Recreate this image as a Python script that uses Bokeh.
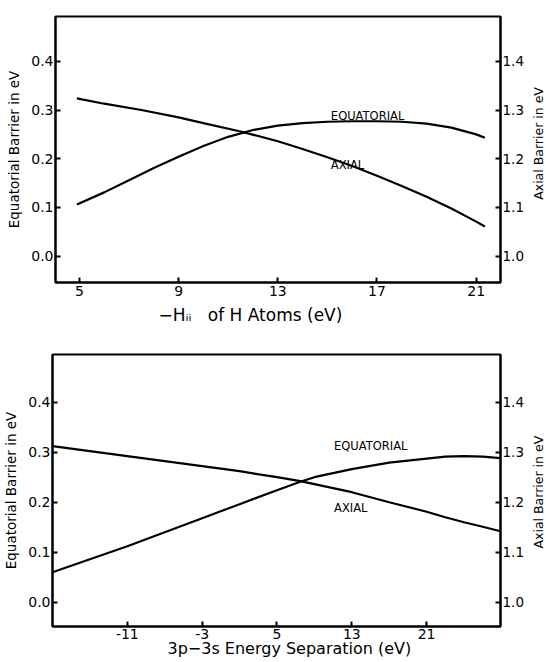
import math
from bokeh.plotting import figure
from bokeh.models import Range1d, LinearAxis, FixedTicker, Label, NumeralTickFormatter, Title
from bokeh.layouts import column, row
from bokeh.embed import file_html
from bokeh.resources import INLINE

# ---------------- data ----------------
# Top panel: -H_ii of H atoms (eV)
top_x_ticks = [5, 9, 13, 17, 21]
top_eq_x = [4.9, 6, 7, 8, 9, 10, 11, 12, 13, 14, 15, 16, 17, 18, 19, 20, 21, 21.35]
top_eq_y = [0.106, 0.131, 0.156, 0.181, 0.204, 0.226, 0.245, 0.259, 0.268, 0.273,
            0.276, 0.277, 0.277, 0.276, 0.272, 0.264, 0.250, 0.243]
top_ax_x = [4.9, 6, 7.5, 9, 10, 11.5, 13, 14, 15, 16, 17, 18, 19, 20, 21, 21.35]
top_ax_y = [1.324, 1.313, 1.300, 1.285, 1.273, 1.256, 1.236, 1.220, 1.203, 1.185,
            1.165, 1.144, 1.122, 1.098, 1.071, 1.061]

# Bottom panel: 3p-3s energy separation (eV)
bot_x_ticks = [-11, -3, 5, 13, 21]
bot_x = [-19, -15, -11, -7, -3, 1, 5, 7.5, 9, 13, 17, 21, 23, 25, 27, 28.9]
bot_eq_y = [0.060, 0.086, 0.112, 0.140, 0.168, 0.196, 0.224, 0.241, 0.250, 0.266,
            0.279, 0.287, 0.291, 0.292, 0.291, 0.288]
bot_ax_y = [1.312, 1.302, 1.292, 1.282, 1.272, 1.262, 1.250, 1.242, 1.236, 1.220,
            1.200, 1.181, 1.170, 1.160, 1.151, 1.142]

left_ticks = [0.0, 0.1, 0.2, 0.3, 0.4]
right_ticks = [1.0, 1.1, 1.2, 1.3, 1.4]

FONT = "DejaVu Sans"
LABEL_W = 20  # width of the strip that holds the right-hand axis title


def style_axis(ax, ticks, fmt=None, overrides=None, label_size="14px", tick_size="14px"):
    ax.ticker = FixedTicker(ticks=ticks)
    ax.axis_line_color = "black"
    ax.axis_line_width = 2
    ax.major_tick_line_color = "black"
    ax.major_tick_line_width = 2
    ax.major_tick_in = 5
    ax.major_tick_out = 0
    ax.minor_tick_line_color = None
    ax.major_label_text_font = FONT
    ax.major_label_text_font_size = tick_size
    ax.major_label_text_color = "black"
    ax.major_label_standoff = 3
    ax.axis_label_text_font = FONT
    ax.axis_label_text_font_size = label_size
    ax.axis_label_text_font_style = "normal"
    ax.axis_label_text_color = "black"
    ax.axis_label_standoff = 6
    if fmt is not None:
        ax.formatter = fmt
    if overrides:
        ax.major_label_overrides = overrides


def make_panel(height, xr, yr, yr2, xticks, xoverrides, border, eq_x, eq_y, ax_x, ax_y,
               eq_lab, ax_lab, title, title_size, title_offset, title_standoff, xlab_standoff,
               rlab_y):
    p = figure(width=546 - LABEL_W, height=height, x_range=Range1d(*xr), y_range=Range1d(*yr),
               output_backend="svg", toolbar_location=None,
               min_border_left=border[0], min_border_right=border[1],
               min_border_top=border[2], min_border_bottom=border[3])
    p.extra_y_ranges = {"ax": Range1d(*yr2)}
    p.xgrid.visible = False
    p.ygrid.visible = False
    p.outline_line_color = "black"
    p.outline_line_width = 2
    p.outline_line_alpha = 1
    p.background_fill_color = "white"
    p.border_fill_color = "white"

    style_axis(p.xaxis[0], xticks, overrides=xoverrides)
    p.xaxis[0].major_label_standoff = xlab_standoff
    style_axis(p.yaxis[0], left_ticks, fmt=NumeralTickFormatter(format="0.0"),
               label_size="13.5px")
    p.yaxis[0].axis_label = "Equatorial Barrier in eV"
    p.yaxis[0].major_label_standoff = 2

    rax = LinearAxis(y_range_name="ax")
    style_axis(rax, right_ticks, fmt=NumeralTickFormatter(format="0.0"),
               tick_size="13.5px")
    rax.major_label_standoff = 2
    p.add_layout(rax, "right")

    p.line(eq_x, eq_y, line_color="black", line_width=2.2)
    p.line(ax_x, ax_y, line_color="black", line_width=2.2, y_range_name="ax")

    for (tx, ty, t) in [(eq_lab[0], eq_lab[1], "EQUATORIAL"), (ax_lab[0], ax_lab[1], "AXIAL")]:
        p.add_layout(Label(x=tx, y=ty, text=t, text_font=FONT, text_font_size="11.5px",
                           text_align="left", text_baseline="middle", text_color="black"))
    t = Title(text=title, align="left", offset=title_offset, text_font=FONT,
              text_font_size=title_size, text_font_style="normal", text_color="black")
    try:
        t.standoff = title_standoff
    except Exception:
        t.standoff = 0
    p.add_layout(t, "below")

    # narrow strip holding the right-hand axis title, reading bottom-to-top
    s = figure(width=LABEL_W, height=height, x_range=Range1d(0, LABEL_W),
               y_range=Range1d(0, height), output_backend="svg", toolbar_location=None,
               min_border=0, x_axis_type=None, y_axis_type=None)
    s.outline_line_color = None
    s.xgrid.visible = False
    s.ygrid.visible = False
    s.background_fill_color = "white"
    s.border_fill_color = "white"
    s.add_layout(Label(x=11.5, y=height - rlab_y, text="Axial Barrier in eV", angle=math.pi / 2,
                       text_font=FONT, text_font_size="12.5px", text_align="center",
                       text_baseline="middle", text_color="black"))
    return row(p, s, spacing=0)


p1 = make_panel(330, (4.037, 21.98), (-0.054, 0.492), (0.946, 1.492),
                top_x_ticks, None, (55, 24, 16, 48),
                top_eq_x, top_eq_y, top_ax_x, top_ax_y,
                (15.14, 0.287), (15.14, 0.188),
                "\u2212H\u1d62\u1d62\u00a0\u00a0 of H Atoms (eV)", "17px", 103, 9, 3, 157.5)

p2 = make_panel(332, (-19.0, 28.9), (-0.0486, 0.4954), (0.9514, 1.4954),
                bot_x_ticks, {-11: "-11", -3: "-3"}, (52, 26, 24, 36),
                bot_x, bot_eq_y, bot_x, bot_ax_y,
                (11.1, 0.312), (11.1, 0.1885),
                "3p\u22123s Energy Separation (eV)", "16px", 115, -9, 2, 168)

layout = column(p1, p2, spacing=0)
open("out.html", "w").write(file_html(layout, INLINE))
